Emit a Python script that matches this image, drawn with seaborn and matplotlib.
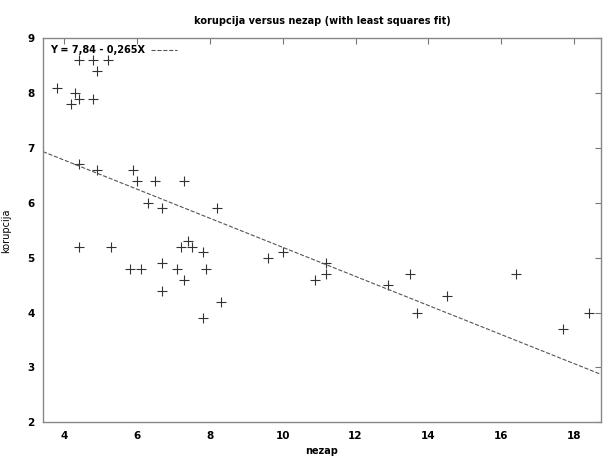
import numpy as np
import pandas as pd
import seaborn as sns
import matplotlib
matplotlib.use('Agg')
import matplotlib.pyplot as plt

# podaci (očitani sa slike)
nezap = [3.8, 4.4, 4.8, 5.2, 4.9, 4.3, 4.4, 4.2, 4.8,
         4.4, 4.9, 5.9, 6.0, 6.5, 7.3, 6.3, 6.7, 8.2,
         4.4, 5.3, 7.2, 7.4, 7.5, 7.8, 9.6, 5.8, 6.1, 6.7, 7.1, 7.9,
         7.3, 6.7, 8.3, 7.8,
         10.0, 11.2, 10.9, 11.2, 12.9, 13.5, 13.7, 14.5, 16.4, 17.7, 18.4]
korupcija = [8.1, 8.6, 8.6, 8.6, 8.4, 8.0, 7.9, 7.8, 7.9,
             6.7, 6.6, 6.6, 6.4, 6.4, 6.4, 6.0, 5.9, 5.9,
             5.2, 5.2, 5.2, 5.3, 5.2, 5.1, 5.0, 4.8, 4.8, 4.9, 4.8, 4.8,
             4.6, 4.4, 4.2, 3.9,
             5.1, 4.9, 4.6, 4.7, 4.5, 4.7, 4.0, 4.3, 4.7, 3.7, 4.0]

# koeficijenti iz legende
intercept = 7.84
slope = -0.265
x_lim = (3.42, 18.74)
y_lim = (2, 9)

df = pd.DataFrame({'nezap': nezap, 'korupcija': korupcija})
fit = pd.DataFrame({'nezap': list(x_lim)})
fit['korupcija'] = intercept + slope * fit['nezap']

sns.set_style('white')
plt.rcParams['font.family'] = ['DejaVu Sans']
plt.rcParams['text.color'] = 'black'
plt.rcParams['xtick.labelcolor'] = 'black'
plt.rcParams['ytick.labelcolor'] = 'black'
plt.rcParams['axes.labelcolor'] = 'black'

fig = plt.figure(figsize=(6.03, 4.59), dpi=100)
ax = fig.add_axes([43 / 603, 1 - 422.3 / 459, (601 - 43) / 603, (422.3 - 38.3) / 459])

sns.scatterplot(data=df, x='nezap', y='korupcija', marker='+', s=50,
                color='#333333', linewidth=0.8, ax=ax, legend=False)
sns.lineplot(data=fit, x='nezap', y='korupcija', color='#555555',
             linewidth=0.8, dashes=(6, 4), linestyle='--', ax=ax,
             label='Y = 7,84 - 0,265X')

ax.set_xlim(*x_lim)
ax.set_ylim(*y_lim)
ax.set_xticks(range(4, 19, 2))
ax.set_yticks(range(2, 10))
ax.tick_params(direction='in', length=4, width=0.8, color='#777777',
               top=True, right=True, labelsize=7.5, pad=6)
for lab in ax.get_xticklabels() + ax.get_yticklabels():
    lab.set_fontweight('bold')
for s in ax.spines.values():
    s.set_color('#888888')
    s.set_linewidth(1.0)

ax.set_xlabel('nezap', fontsize=7, fontweight='bold', labelpad=4)
ax.set_ylabel('korupcija', fontsize=7, labelpad=12)
ax.set_title('korupcija versus nezap (with least squares fit)',
             fontsize=7, fontweight='bold', pad=10)

leg = ax.legend(loc='upper left', frameon=False, markerfirst=False,
                handlelength=2.7, borderaxespad=0.3, handletextpad=0.6,
                prop={'size': 7, 'weight': 'bold'})

fig.savefig('out.png', dpi=100)
